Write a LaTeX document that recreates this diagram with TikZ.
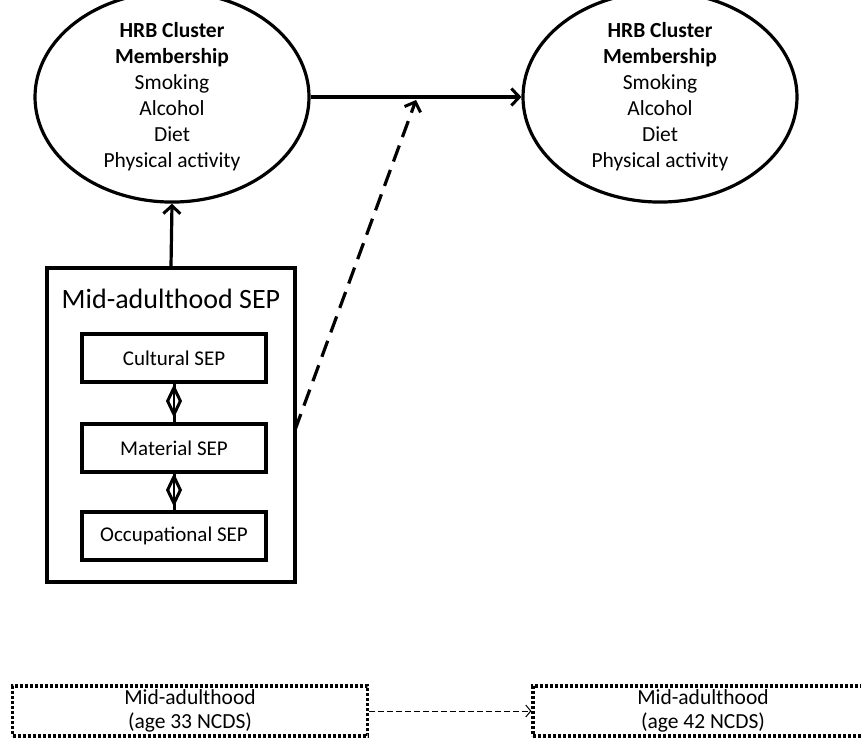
\documentclass[tikz,border=0pt]{standalone}
\usepackage{fontspec}
\setmainfont{Carlito}
\usetikzlibrary{arrows.meta,shapes.geometric}
\begin{document}
\begin{tikzpicture}[x=1pt,y=-1pt,
  ell/.style={ellipse,draw,line width=3.2pt,minimum width=274pt,minimum height=164pt,inner sep=0pt,align=center,font=\fontsize{21.5}{26}\selectfont},
  inbox/.style={rectangle,draw,line width=3.2pt,minimum width=184pt,minimum height=48pt,inner sep=0pt,font=\fontsize{21}{24}\selectfont},
  dotbox/.style={rectangle,draw,line width=3.2pt,dash pattern=on 3pt off 2pt,minimum height=50pt,inner sep=0pt,align=center,font=\fontsize{21.5}{24.5}\selectfont},
  arr/.style={line width=3.2pt,-{Straight Barb[length=8pt,width=17pt,line width=3pt]}},
  dia/.style={diamond,draw,line width=3pt,minimum width=14pt,minimum height=28pt,inner sep=0pt,fill=white}
]
\useasboundingbox (0,0) rectangle (861,740);
\node[ell] (e1) at (172,97) {\textbf{HRB Cluster}\\\textbf{Membership}\\Smoking\\Alcohol\\Diet\\Physical activity};
\node[ell] (e2) at (660,97) {\textbf{HRB Cluster}\\\textbf{Membership}\\Smoking\\Alcohol\\Diet\\Physical activity};
\draw[arr] (e1.east) -- (e2.west);
\node[rectangle,draw,line width=3.2pt,minimum width=248pt,minimum height=314pt,inner sep=0pt] (outer) at (171,425) {};
\node[font=\fontsize{28}{32}\selectfont] (title) at (171,299) {Mid-adulthood SEP};
\node[inbox] (c) at (174,358) {Cultural SEP};
\node[inbox] (m) at (174,448) {Material SEP};
\node[inbox] (o) at (174,536) {Occupational SEP};
\draw[line width=3pt] (c.south) -- (m.north);
\draw[line width=3pt] (m.south) -- (o.north);
\node[dia] (d1) at (174,401) {};
\node[dia] (d2) at (174,490) {};
\draw[line width=2.4pt] (d1.north) -- (d1.south);
\draw[line width=2.4pt] (d2.north) -- (d2.south);
\draw[arr] (outer.north) -- (e1.south);
\coordinate (dtip) at (416,100);
\coordinate (dstart) at (295,430);
\draw[arr,dash pattern=on 17pt off 9pt] (dstart) -- (dtip);
\node[dotbox,minimum width=355pt] (b1) at (190,711) {Mid-adulthood\\(age 33 NCDS)};
\node[dotbox,minimum width=340pt] (b2) at (703,711) {Mid-adulthood\\(age 42 NCDS)};
\draw[line width=1pt,dash pattern=on 6pt off 3pt,-{Straight Barb[length=5pt,width=12pt]}] (b1.east) -- (b2.west);
\end{tikzpicture}
\end{document}
